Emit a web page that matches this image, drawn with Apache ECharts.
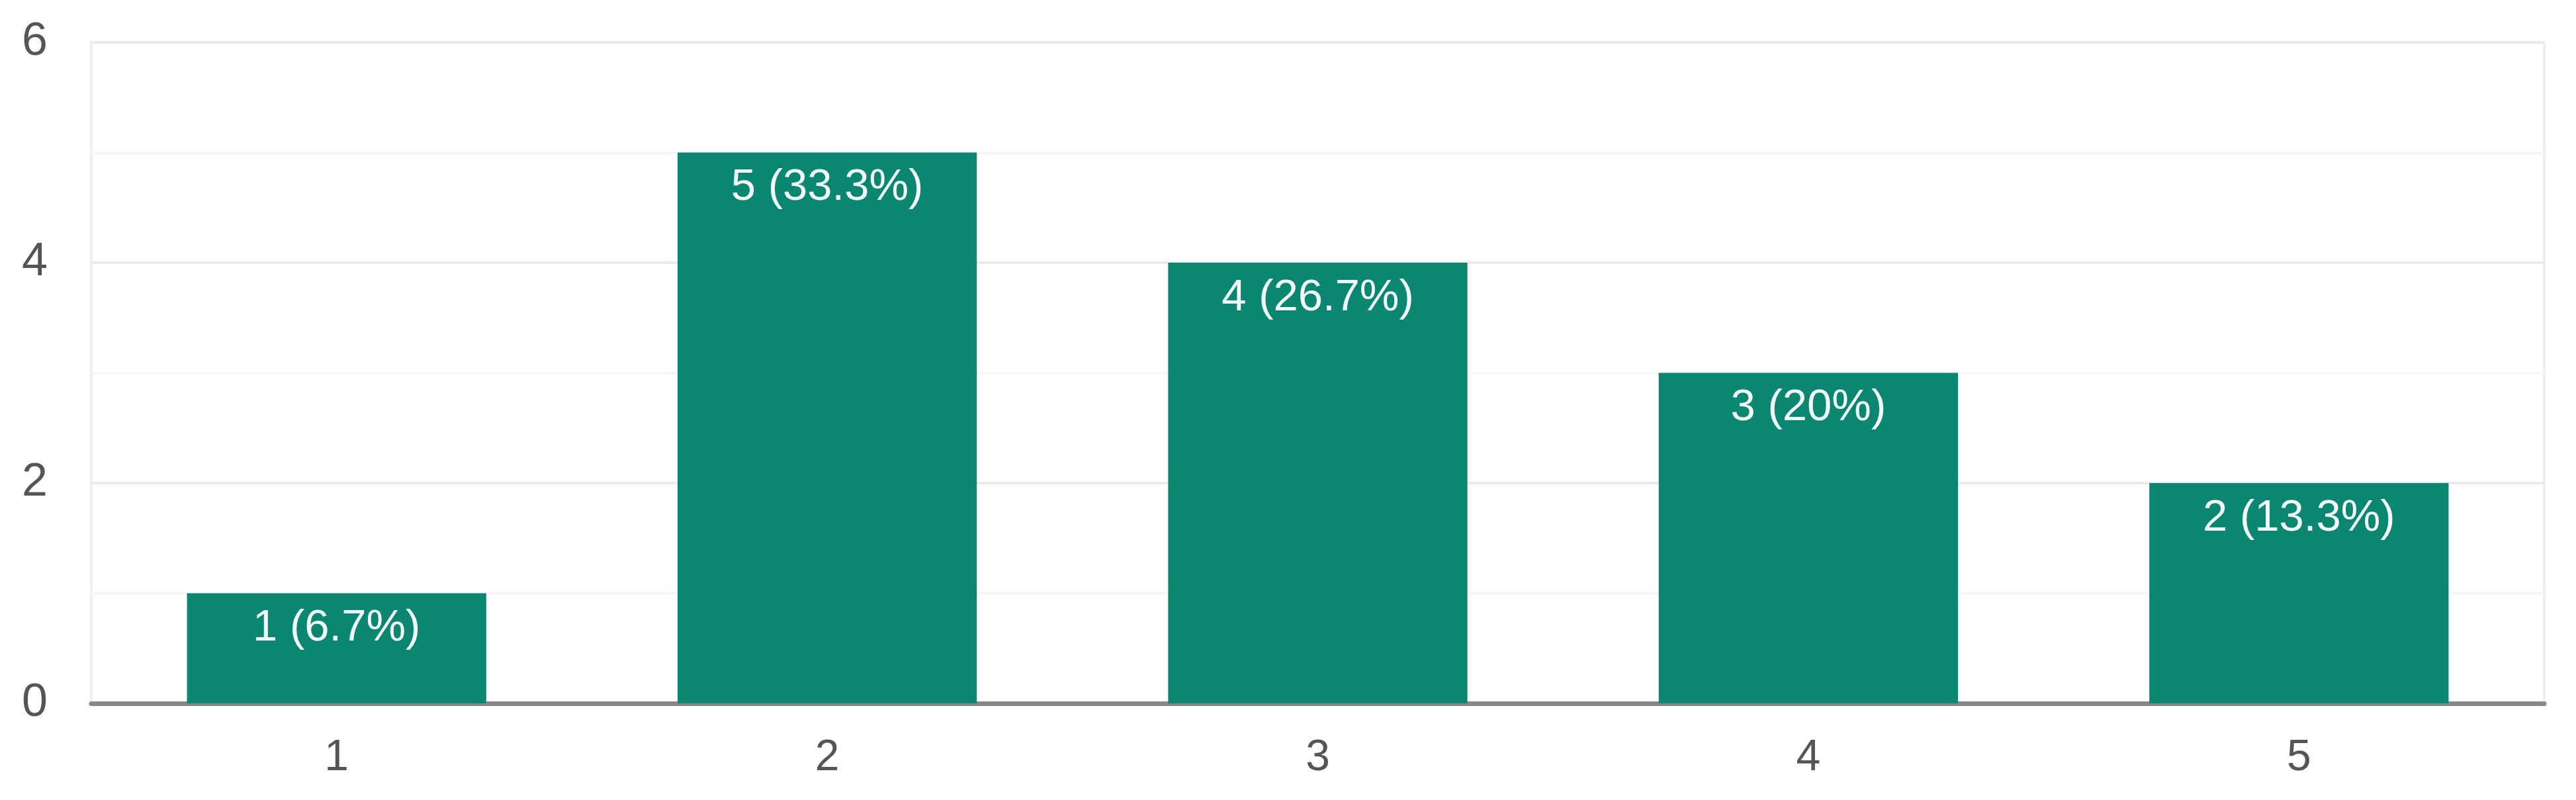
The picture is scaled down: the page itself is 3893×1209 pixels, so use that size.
<!DOCTYPE html>
<html>
<head>
<meta charset="utf-8">
<script src="https://cdn.jsdelivr.net/npm/echarts@6/dist/echarts.min.js"></script>
<style>
  html, body { margin: 0; padding: 0; background: #fff; }
  #chart { width: 3893px; height: 1209px; }
</style>
</head>
<body>
<div id="chart"></div>
<script>
// 数据
const categories = ['1', '2', '3', '4', '5'];
const counts = [1, 5, 4, 3, 2];
const percents = ['6.7%', '33.3%', '26.7%', '20%', '13.3%'];
const yTicks = [0, 2, 4, 6];

const chart = echarts.init(document.getElementById('chart'));

chart.setOption({
  animation: false,
  grid: {
    left: 138,
    right: 48,
    top: 64,
    bottom: 146,
    show: true,
    borderColor: '#eeeeee',
    borderWidth: 4
  },
  xAxis: {
    type: 'category',
    data: categories,
    axisLine: { lineStyle: { color: '#888888', width: 7 } },
    axisTick: { show: false },
    axisLabel: {
      color: '#555555',
      fontSize: 66,
      fontFamily: 'Liberation Sans',
      margin: 50
    }
  },
  yAxis: {
    type: 'value',
    min: yTicks[0],
    max: yTicks[yTicks.length - 1],
    interval: 2,
    axisLine: { show: false },
    axisTick: { show: false },
    axisLabel: {
      color: '#555555',
      fontSize: 70,
      fontFamily: 'Liberation Sans',
      margin: 66
    },
    splitLine: { lineStyle: { color: '#ebebeb', width: 4 } },
    minorTick: { show: false, splitNumber: 2 },
    minorSplitLine: { show: true, lineStyle: { color: '#f6f6f6', width: 4 } }
  },
  series: [{
    type: 'bar',
    data: counts,
    barCategoryGap: '39%',
    itemStyle: { color: '#0b8670' },
    label: {
      show: true,
      position: 'insideTop',
      distance: 20,
      color: '#f2fbf9',
      fontSize: 67,
      fontFamily: 'Liberation Sans',
      formatter: (p) => p.value + ' (' + percents[p.dataIndex] + ')'
    }
  }]
});
</script>
</body>
</html>
